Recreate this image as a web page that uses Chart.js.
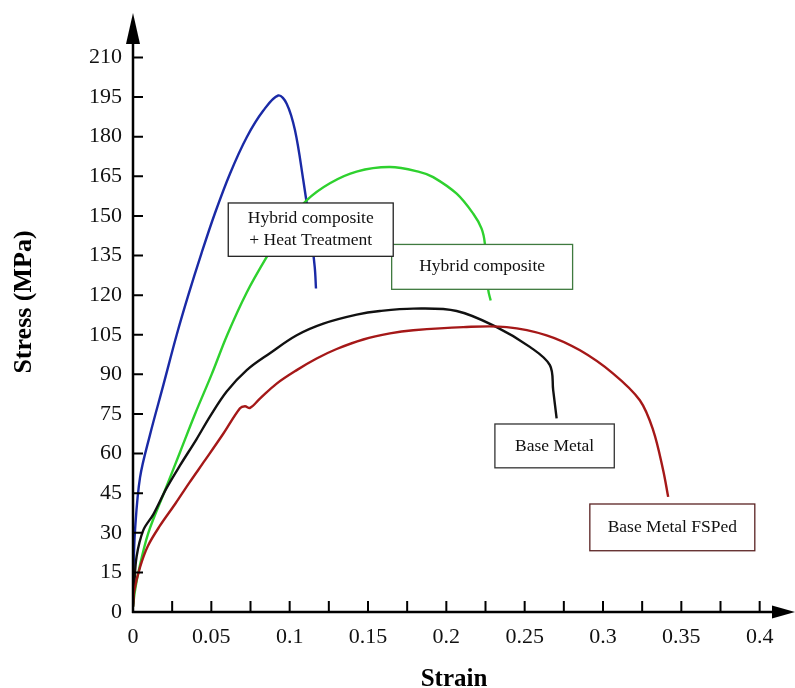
<!DOCTYPE html>
<html>
<head>
<meta charset="utf-8">
<style>
  html, body { margin: 0; padding: 0; background: #fff; }
  #wrap { width: 795px; height: 688px; }
</style>
</head>
<body>
<div id="wrap"><canvas id="stressStrain"></canvas></div>
<script src="https://cdn.jsdelivr.net/npm/chart.js"></script>
<script>
  // axis ticks
  const strainTicks = [0, 0.025, 0.05, 0.075, 0.1, 0.125, 0.15, 0.175, 0.2, 0.225, 0.25, 0.275, 0.3, 0.325, 0.35, 0.375, 0.4];
  const strainTickLabels = ["0", "", "0.05", "", "0.1", "", "0.15", "", "0.2", "", "0.25", "", "0.3", "", "0.35", "", "0.4"];
  const stressTicks = [0, 15, 30, 45, 60, 75, 90, 105, 120, 135, 150, 165, 180, 195, 210];

  // Hybrid composite + Heat Treatment (blue)
  const hybridHtStrain = [0, 0.0003, 0.0013, 0.0045, 0.0108, 0.0194, 0.0279, 0.0353, 0.0438, 0.0523, 0.0619, 0.0726, 0.0832, 0.0927, 0.0981, 0.1034, 0.1087, 0.113, 0.116, 0.1168];
  const hybridHtStress = [3, 15, 31, 51, 67, 86, 105, 120, 136, 151, 166, 179.8, 189.9, 195.6, 192.5, 182.4, 163.5, 145.8, 130.6, 122.5];

  // Hybrid composite (green)
  const hybridStrain = [0, 0.001, 0.0034, 0.0098, 0.0204, 0.03, 0.0396, 0.0502, 0.0602, 0.0726, 0.0853, 0.0981, 0.1108, 0.1257, 0.1427, 0.164, 0.1832, 0.1916, 0.2066, 0.2172, 0.2225, 0.2246, 0.2268, 0.2283];
  const hybridStress = [2, 7, 15, 30, 46, 60.5, 75, 90, 105, 121, 134.4, 146.5, 155.9, 162.4, 166.8, 168.5, 166.6, 164.7, 158.4, 150.8, 145.2, 139.5, 121.8, 118];

  // Base Metal (black)
  const baseStrain = [0, 0.0008, 0.0023, 0.0066, 0.013, 0.0215, 0.03, 0.0406, 0.0491, 0.0598, 0.0726, 0.0874, 0.1045, 0.1215, 0.1428, 0.1576, 0.1789, 0.2066, 0.2321, 0.2533, 0.2661, 0.2682, 0.2704];
  const baseStress = [2, 10, 21, 31, 37, 47, 55.5, 65.5, 74, 83.5, 91.6, 98, 104.8, 109.2, 112.6, 114, 114.9, 114, 107.9, 100.4, 93.5, 84, 73.3];

  // Base Metal FSPed (red)
  const fspStrain = [0, 0.0008, 0.0045, 0.0095, 0.017, 0.027, 0.036, 0.046, 0.0576, 0.0683, 0.0715, 0.0747, 0.081, 0.0917, 0.1045, 0.1172, 0.13, 0.147, 0.164, 0.1789, 0.2108, 0.2385, 0.264, 0.2853, 0.3065, 0.3235, 0.332, 0.3384, 0.3416];
  const fspStress = [2, 8, 17, 25, 32.5, 41, 49, 57.5, 67.5, 77.2, 77.9, 77.3, 80.8, 86.5, 91.6, 96, 99.6, 103.2, 105.5, 106.7, 107.9, 107.9, 104.8, 99.1, 90.3, 80.2, 68.9, 53.7, 43.6];

  // label boxes, corners in data units
  const labelBoxes = [
    { lines: ["Hybrid composite"], x0: 0.1651, x1: 0.2806, y0: 139.2, y1: 122.2, border: "#3f7a3f" },
    { lines: ["Hybrid composite", "+ Heat Treatment"], x0: 0.0608, x1: 0.1661, y0: 154.9, y1: 134.7, border: "#222" },
    { lines: ["Base Metal"], x0: 0.231, x1: 0.3072, y0: 71.2, y1: 54.6, border: "#333" },
    { lines: ["Base Metal FSPed"], x0: 0.2916, x1: 0.3969, y0: 40.9, y1: 23.2, border: "#5a2222" },
  ];

  const serif = "'Liberation Serif', 'Times New Roman', serif";
  Chart.defaults.font.family = serif;
  Chart.defaults.color = "#111";

  function toPoints(xs, ys) {
    return xs.map((x, i) => ({ x: x, y: ys[i] }));
  }

  function curve(label, xs, ys, color) {
    return {
      label: label,
      data: toPoints(xs, ys),
      borderColor: color,
      borderWidth: 2.4,
      pointRadius: 0,
      tension: 0.35,
      fill: false,
    };
  }

  // axes with arrows, inward ticks, titles and label boxes
  const decorPlugin = {
    id: "decor",
    afterDatasetsDraw(chart) {
      const ctx = chart.ctx;
      const xs = chart.scales.x;
      const ys = chart.scales.y;
      const left = chart.chartArea.left;
      const bottom = chart.chartArea.bottom;
      ctx.save();

      // label boxes
      labelBoxes.forEach((b) => {
        const px0 = xs.getPixelForValue(b.x0);
        const px1 = xs.getPixelForValue(b.x1);
        const py0 = ys.getPixelForValue(b.y0);
        const py1 = ys.getPixelForValue(b.y1);
        ctx.fillStyle = "#fff";
        ctx.fillRect(px0, py0, px1 - px0, py1 - py0);
        ctx.strokeStyle = b.border;
        ctx.lineWidth = 1.3;
        ctx.strokeRect(px0, py0, px1 - px0, py1 - py0);
        ctx.fillStyle = "#111";
        ctx.font = "17.5px " + serif;
        ctx.textAlign = "center";
        ctx.textBaseline = "middle";
        const cx = (px0 + px1) / 2;
        const cy = (py0 + py1) / 2;
        const lh = 22;
        b.lines.forEach((t, i) => {
          ctx.fillText(t, cx, cy + (i - (b.lines.length - 1) / 2) * lh);
        });
      });

      // axis lines
      ctx.strokeStyle = "#000";
      ctx.fillStyle = "#000";
      ctx.lineWidth = 2.5;
      ctx.beginPath();
      ctx.moveTo(left, bottom + 1);
      ctx.lineTo(left, 40);
      ctx.moveTo(left - 1, bottom);
      ctx.lineTo(776, bottom);
      ctx.stroke();

      // arrows
      ctx.beginPath();
      ctx.moveTo(left, 13);
      ctx.lineTo(left - 7, 44);
      ctx.lineTo(left + 7, 44);
      ctx.closePath();
      ctx.fill();
      ctx.beginPath();
      ctx.moveTo(795, bottom);
      ctx.lineTo(772, bottom - 6.5);
      ctx.lineTo(772, bottom + 6.5);
      ctx.closePath();
      ctx.fill();

      // inward tick marks
      ctx.lineWidth = 2;
      ctx.beginPath();
      stressTicks.forEach((v) => {
        if (v === 0) return;
        const py = ys.getPixelForValue(v);
        ctx.moveTo(left, py);
        ctx.lineTo(left + 10, py);
      });
      strainTicks.forEach((v) => {
        if (v === 0) return;
        const px = xs.getPixelForValue(v);
        ctx.moveTo(px, bottom);
        ctx.lineTo(px, bottom - 11);
      });
      ctx.stroke();

      // axis titles
      ctx.fillStyle = "#000";
      ctx.font = "bold 25px " + serif;
      ctx.textAlign = "center";
      ctx.textBaseline = "alphabetic";
      ctx.fillText("Strain", 454, 686);
      ctx.save();
      ctx.translate(31, 302);
      ctx.rotate(-Math.PI / 2);
      ctx.font = "bold 26px " + serif;
      ctx.fillText("Stress (MPa)", 0, 0);
      ctx.restore();

      ctx.restore();
    },
  };

  const ctx = document.getElementById("stressStrain").getContext("2d");

  new Chart(ctx, {
    type: "line",
    data: {
      datasets: [
        curve("Base Metal FSPed", fspStrain, fspStress, "#a51818"),
        curve("Base Metal", baseStrain, baseStress, "#111111"),
        curve("Hybrid composite", hybridStrain, hybridStress, "#2ed12e"),
        curve("Hybrid composite + Heat Treatment", hybridHtStrain, hybridHtStress, "#1a2aa6"),
      ],
    },
    options: {
      responsive: true,
      maintainAspectRatio: false,
      animation: false,
      layout: { padding: { top: 39, right: 4, left: 0, bottom: 0 } },
      plugins: {
        legend: { display: false },
        tooltip: { enabled: false },
      },
      scales: {
        x: {
          type: "linear",
          min: 0,
          max: 0.42,
          grid: { display: false, drawTicks: false },
          border: { display: false },
          afterBuildTicks: (s) => {
            s.ticks = strainTicks.map((v) => ({ value: v }));
          },
          afterFit: (s) => {
            s.height = 76;
          },
          ticks: {
            autoSkip: false,
            maxRotation: 0,
            padding: 12,
            color: "#111",
            font: { size: 22 },
            callback: (v, i) => strainTickLabels[i],
          },
        },
        y: {
          type: "linear",
          min: 0,
          max: 217,
          grid: { display: false, drawTicks: false },
          border: { display: false },
          afterBuildTicks: (s) => {
            s.ticks = stressTicks.map((v) => ({ value: v }));
          },
          afterFit: (s) => {
            s.width = 133;
          },
          ticks: {
            autoSkip: false,
            padding: 11,
            color: "#111",
            font: { size: 22 },
          },
        },
      },
    },
    plugins: [decorPlugin],
  });
</script>
</body>
</html>
